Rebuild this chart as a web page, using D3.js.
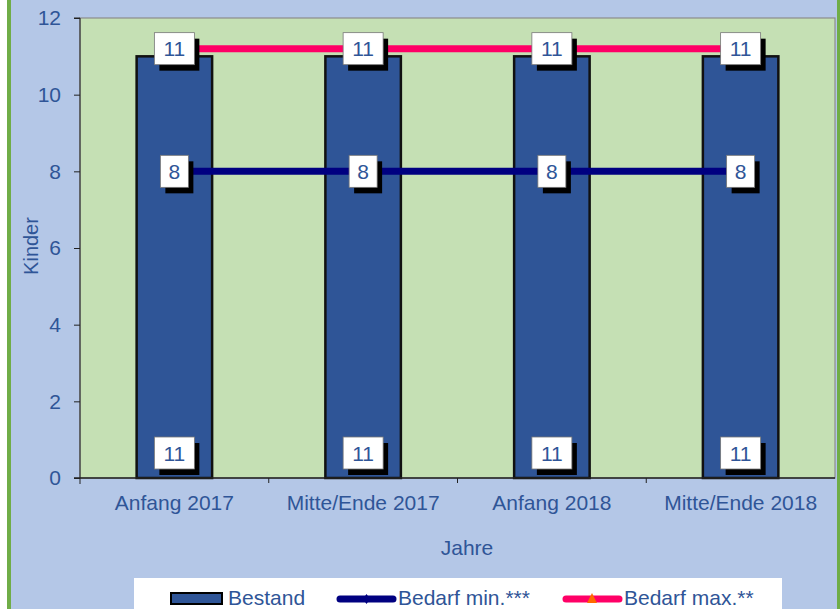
<!DOCTYPE html>
<html>
  <head>
    <style>
    body {
        margin: 0px;
        overflow: hidden;
        background: #ffffff;
    }
    text {
        font-family: "Liberation Sans", Arial, sans-serif;
        fill: #2F5597;
    }
    .tick text {
        font-size: 21px;
    }
    </style>
    <script src="https://d3js.org/d3.v7.min.js"></script>
  </head>
  <body>
    <svg width="840" height="609"></svg>
    <script>
        // data
        const categories = ['Anfang 2017', 'Mitte/Ende 2017', 'Anfang 2018', 'Mitte/Ende 2018'];
        const bestand = [11, 11, 11, 11];
        const bedarfMin = [8, 8, 8, 8];
        const bedarfMax = [11.2, 11.2, 11.2, 11.2];
        const yTicks = [0, 2, 4, 6, 8, 10, 12];

        const svg = d3.select('svg');
        const width = +svg.attr('width');
        const height = +svg.attr('height');

        const margin = { top: 18, right: 5, bottom: 131, left: 80 };
        const innerWidth = width - margin.left - margin.right;
        const innerHeight = height - margin.top - margin.bottom;

        // background + green strips
        svg.append('rect')
            .attr('x', 9).attr('y', 0)
            .attr('width', width - 9).attr('height', height)
            .attr('fill', '#B4C7E7');
        svg.append('rect')
            .attr('x', 7).attr('y', 0)
            .attr('width', 4).attr('height', height)
            .attr('fill', '#70AD47');
        svg.append('rect')
            .attr('x', 837).attr('y', 0)
            .attr('width', 3).attr('height', height)
            .attr('fill', '#70AD47');

        const xScale = d3.scaleBand()
            .domain(categories)
            .range([0, innerWidth])
            .paddingInner(0.6)
            .paddingOuter(0.3);

        const xOuter = d3.scaleBand()
            .domain(categories)
            .range([0, innerWidth]);

        const yScale = d3.scaleLinear()
            .domain([0, 12])
            .range([innerHeight, 0]);

        const g = svg.append('g')
            .attr('transform', `translate(${margin.left},${margin.top})`);

        g.append('rect')
            .attr('width', innerWidth)
            .attr('height', innerHeight)
            .attr('fill', '#C5E0B4')
            .attr('stroke', '#8c8c8c')
            .attr('stroke-width', 1.2);

        // bars
        g.selectAll('rect.bar').data(bestand)
            .enter().append('rect')
            .attr('class', 'bar')
            .attr('x', (d, i) => xScale(categories[i]))
            .attr('y', d => yScale(d))
            .attr('width', xScale.bandwidth())
            .attr('height', d => innerHeight - yScale(d))
            .attr('fill', '#2F5597')
            .attr('stroke', '#111')
            .attr('stroke-width', 2.5);

        const cx = c => xOuter(c) + xOuter.bandwidth() / 2;

        // lines
        const line = d3.line()
            .x((d, i) => cx(categories[i]))
            .y(d => yScale(d));

        g.append('path')
            .datum(bedarfMax)
            .attr('d', line)
            .attr('fill', 'none')
            .attr('stroke', '#FF0066')
            .attr('stroke-width', 7);

        g.append('path')
            .datum(bedarfMin)
            .attr('d', line)
            .attr('fill', 'none')
            .attr('stroke', '#000080')
            .attr('stroke-width', 7);

        // axes
        const yAxis = d3.axisLeft(yScale)
            .tickValues(yTicks)
            .tickSize(6)
            .tickPadding(13);
        const yAxisG = g.append('g').call(yAxis);
        yAxisG.selectAll('line, path').attr('stroke', '#222');
        yAxisG.select('.domain').attr('d', `M-6,0H0V${innerHeight + 6}`);

        const xAxisG = g.append('g')
            .attr('transform', `translate(0,${innerHeight})`);
        xAxisG.append('line')
            .attr('x1', -6).attr('x2', innerWidth)
            .attr('stroke', '#222').attr('stroke-width', 1.5);
        xAxisG.selectAll('line.sep').data(categories.slice(1))
            .enter().append('line')
            .attr('class', 'sep')
            .attr('x1', d => xOuter(d)).attr('x2', d => xOuter(d))
            .attr('y1', 0).attr('y2', 5)
            .attr('stroke', '#222');
        xAxisG.selectAll('text').data(categories)
            .enter().append('text')
            .attr('x', d => cx(d))
            .attr('y', 32)
            .attr('text-anchor', 'middle')
            .attr('font-size', '21px')
            .text(d => d);

        // data labels
        const fmt = d3.format('.0f');
        const drawLabel = (x, y, txt) => {
            const w = txt.length > 1 ? 40 : 28;
            const h = 32;
            const lg = g.append('g').attr('transform', `translate(${x - w / 2},${y - h / 2})`);
            lg.append('rect')
                .attr('x', 5).attr('y', 6)
                .attr('width', w).attr('height', h)
                .attr('fill', '#000');
            lg.append('rect')
                .attr('width', w).attr('height', h)
                .attr('fill', '#fff')
                .attr('stroke', '#777')
                .attr('stroke-width', 0.8);
            lg.append('text')
                .attr('x', w / 2).attr('y', h / 2 + 7.5)
                .attr('text-anchor', 'middle')
                .attr('font-size', '21px')
                .text(txt);
        };

        bestand.forEach((d, i) => drawLabel(cx(categories[i]), innerHeight - 25, fmt(d)));
        bedarfMin.forEach((d, i) => drawLabel(cx(categories[i]), yScale(d), fmt(d)));
        bedarfMax.forEach((d, i) => drawLabel(cx(categories[i]), yScale(d), fmt(d)));

        // axis titles
        svg.append('text')
            .attr('transform', `translate(38,246) rotate(-90)`)
            .attr('text-anchor', 'middle')
            .attr('font-size', '20px')
            .text('Kinder');

        svg.append('text')
            .attr('x', 467)
            .attr('y', 555)
            .attr('text-anchor', 'middle')
            .attr('font-size', '21px')
            .text('Jahre');

        // legend
        const legend = svg.append('g');
        legend.append('rect')
            .attr('x', 134).attr('y', 578)
            .attr('width', 648).attr('height', 40)
            .attr('fill', '#fff');

        legend.append('rect')
            .attr('x', 171).attr('y', 593)
            .attr('width', 51).attr('height', 11)
            .attr('fill', '#2F5597')
            .attr('stroke', '#000')
            .attr('stroke-width', 2);
        legend.append('text')
            .attr('x', 228).attr('y', 605)
            .attr('font-size', '21px')
            .text('Bestand');

        legend.append('line')
            .attr('x1', 340).attr('x2', 393)
            .attr('y1', 599).attr('y2', 599)
            .attr('stroke', '#000080')
            .attr('stroke-width', 7)
            .attr('stroke-linecap', 'round');
        legend.append('path')
            .attr('d', 'M366.5,594L370,599L366.5,604L363,599Z')
            .attr('fill', '#000080');
        legend.append('text')
            .attr('x', 398).attr('y', 605)
            .attr('font-size', '21px')
            .text('Bedarf min.***');

        legend.append('line')
            .attr('x1', 566).attr('x2', 619)
            .attr('y1', 599).attr('y2', 599)
            .attr('stroke', '#FF0066')
            .attr('stroke-width', 7)
            .attr('stroke-linecap', 'round');
        legend.append('path')
            .attr('d', 'M592,593L597,603L587,603Z')
            .attr('fill', '#FF6A00');
        legend.append('text')
            .attr('x', 624).attr('y', 605)
            .attr('font-size', '21px')
            .text('Bedarf max.**');
    </script>
  </body>
</html>
